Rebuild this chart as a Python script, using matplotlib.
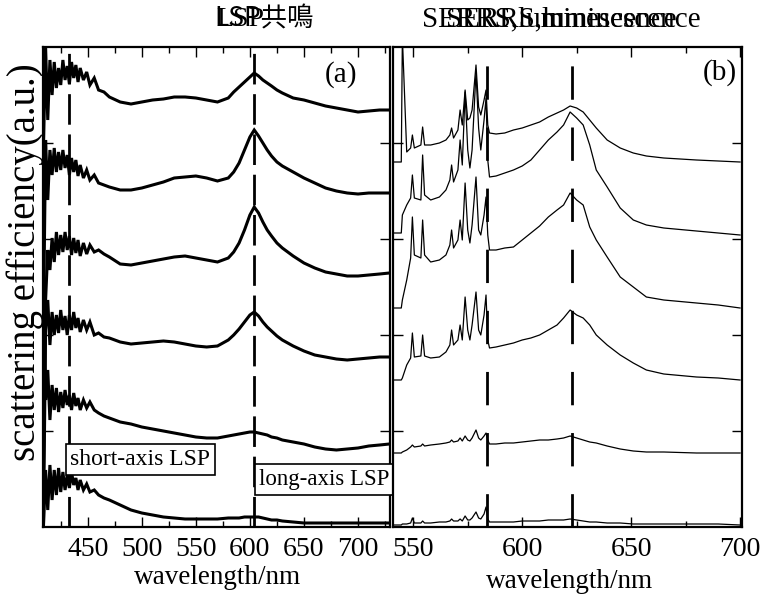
import matplotlib
matplotlib.use("Agg")
import matplotlib.pyplot as plt
from matplotlib.ticker import MultipleLocator

# ---------------- data: panel (a) dark-field scattering spectra (stacked, a.u.) -------------
wl_a = [409, 411, 413, 415, 417, 419, 421, 423, 425, 427, 429, 431, 433, 435, 437, 439, 441, 443,
        446, 449, 452, 456, 460, 465, 470, 480, 490, 500, 510, 520, 530, 540, 550, 560, 570, 580,
        585, 590, 595, 600, 604, 608, 612, 616, 620, 625, 630, 640, 650, 660, 670, 680, 690, 700,
        710, 720, 729]
a1 = [377, 480, 407, 467, 432, 465, 439, 459, 442, 467, 447, 461, 443, 465, 449, 462, 445, 459,
      447, 455, 442, 449, 437, 435, 430, 425, 423, 425, 427, 428, 430, 430, 429, 427, 425, 429,
      435, 440, 445, 450, 454, 451, 447, 444, 441, 437, 434, 429, 427, 424, 421, 419, 417, 415,
      416, 417, 417]
a2 = [197, 387, 327, 377, 352, 379, 355, 375, 357, 377, 359, 372, 352, 369, 355, 367, 351, 362,
      349, 357, 347, 352, 344, 342, 340, 337, 337, 339, 342, 345, 349, 350, 351, 349, 346, 349,
      355, 364, 377, 390, 397, 391, 384, 377, 371, 365, 361, 355, 349, 344, 339, 336, 334, 333,
      334, 334, 334]
a3 = [47, 227, 277, 257, 289, 265, 295, 272, 292, 275, 295, 277, 291, 272, 289, 274, 287, 271,
      284, 273, 282, 275, 277, 273, 270, 263, 262, 264, 266, 268, 270, 271, 269, 267, 265, 269,
      275, 284, 297, 312, 320, 314, 305, 297, 291, 284, 279, 271, 264, 259, 255, 253, 251, 251,
      252, 253, 254]
a4 = [0, 197, 227, 182, 215, 192, 212, 194, 217, 197, 211, 192, 212, 197, 215, 199, 209, 195,
      207, 197, 205, 192, 194, 190, 189, 185, 183, 184, 185, 186, 185, 183, 181, 180, 181, 187,
      192, 198, 205, 212, 215, 211, 205, 200, 196, 191, 187, 181, 176, 172, 170, 168, 167, 168,
      169, 170, 170]
a5 = [227, 127, 157, 107, 142, 117, 139, 115, 135, 119, 137, 122, 132, 117, 134, 121, 129, 117,
      127, 119, 125, 117, 114, 111, 109, 105, 103, 100, 98, 96, 94, 92, 90, 89, 89, 91,
      92, 93, 94, 95, 95, 94, 93, 92, 90, 89, 87, 85, 83, 80, 78, 77, 78, 79,
      81, 82, 83]
a6 = [0, 57, 17, 62, 27, 57, 32, 59, 35, 55, 37, 52, 39, 55, 42, 49, 37, 47,
      37, 43, 35, 37, 32, 29, 27, 22, 17, 14, 12, 10, 9, 8, 8, 8, 8, 9,
      9, 9, 10, 10, 10, 10, 9, 8, 7, 7, 6, 5, 4, 4, 4, 4, 4, 4,
      4, 4, 4]
series_a = [a1, a2, a3, a4, a5, a6]
lines_a = [433, 604]          # short-axis / long-axis LSP positions (nm)

# ---------------- data: panel (b) SERRS + luminescence spectra (stacked, a.u.) -------------
wl_b = [541, 544.5, 545, 547, 548.8, 549.6, 550.5, 553.5, 554.3, 555.2,
        558, 562, 565, 566.8, 567.6, 568.5, 570.5, 571.5, 572.5, 573.8,
        575, 576, 577, 578.8, 580, 581, 582.5, 583.4, 584.2, 585,
        588, 592, 596, 600, 604, 608, 612, 616, 619, 622,
        625, 628, 631, 634, 639, 645, 651, 657, 665, 680,
        690, 700]
b1 = [365, 365, 490, 375, 379, 392, 379, 382, 400, 382,
      382, 384, 387, 392, 399, 389, 397, 417, 402, 437,
      407, 409, 417, 462, 420, 412, 427, 437, 402, 394,
      393, 394, 397, 399, 402, 405, 410, 414, 417, 421,
      419, 415, 407, 399, 387, 379, 374, 371, 369, 367,
      366, 365]
b2 = [294, 294, 312, 322, 329, 352, 329, 327, 372, 332,
      327, 330, 337, 347, 362, 345, 357, 387, 362, 435,
      377, 359, 377, 455, 399, 377, 407, 429, 367, 350,
      351, 354, 357, 361, 367, 377, 387, 395, 402, 415,
      409, 402, 382, 357, 340, 319, 307, 302, 299, 296,
      294, 292]
b3 = [219, 219, 227, 247, 269, 310, 272, 269, 307, 272,
      265, 267, 272, 282, 297, 279, 287, 307, 287, 344,
      297, 284, 302, 350, 297, 292, 312, 330, 292, 277,
      277, 279, 280, 287, 294, 301, 310, 317, 322, 334,
      327, 322, 300, 287, 270, 250, 240, 230, 227, 224,
      222, 219]
b4 = [147, 147, 149, 162, 169, 194, 170, 171, 192, 171,
      169, 170, 175, 182, 197, 182, 187, 202, 187, 230,
      197, 187, 202, 235, 197, 192, 212, 232, 187, 179,
      180, 182, 184, 187, 189, 192, 197, 202, 209, 217,
      212, 209, 202, 192, 182, 172, 164, 157, 153, 150,
      149, 147]
b5 = [74, 74, 75, 77, 80, 82, 80, 81, 83, 81,
      82, 83, 84, 85, 87, 85, 86, 89, 86, 91,
      87, 86, 89, 97, 89, 87, 91, 94, 87, 83,
      83, 84, 84, 85, 86, 87, 87, 88, 89, 91,
      89, 87, 85, 84, 81, 78, 76, 75, 75, 74,
      74, 74]
b6 = [2, 2, 3, 3, 4, 9, 4, 4, 6, 4,
      4, 5, 5, 6, 8, 6, 6, 8, 6, 11,
      7, 7, 9, 15, 9, 8, 13, 20, 8, 5,
      5, 5, 5, 6, 6, 6, 7, 7, 7, 8,
      7, 6, 5, 5, 4, 4, 3, 3, 3, 3,
      3, 2]
series_b = [b1, b2, b3, b4, b5, b6]
lines_b = [584, 623]

xticks_a = [450, 500, 550, 600, 650, 700]
xticks_b = [550, 600, 650, 700]

# ---------------- figure ----------------
W, H = 772, 596
fig = plt.figure(figsize=(W / 100, H / 100), dpi=100)
serif = "Liberation Serif"
plt.rcParams["font.family"] = [serif, "Noto Sans CJK JP", "DejaVu Sans"]


def box(x0, x1, y0, y1):
    return [x0 / W, 1 - y1 / H, (x1 - x0) / W, (y1 - y0) / H]


axA = fig.add_axes(box(43, 390, 47, 527))
axB = fig.add_axes(box(393, 742, 47, 527))

for ax in (axA, axB):
    ax.set_ylim(0, 480)
    ax.set_yticks([96, 192, 288, 384])
    ax.tick_params(axis="both", which="both", direction="in", top=True, right=True,
                   labelleft=False, width=1.0, colors="black")
    ax.tick_params(axis="both", which="major", length=7)
    ax.tick_params(axis="both", which="minor", length=4)
    ax.tick_params(axis="x", labelsize=20, pad=7)
    for sp in ax.spines.values():
        sp.set_linewidth(1.6)
    ax.xaxis.set_minor_locator(MultipleLocator(25))

axA.set_xlim(408.6, 729.6)
axA.set_xticks(xticks_a)
axB.set_xlim(540.7, 700.9)
axB.set_xticks(xticks_b)
for lab in axA.get_xticklabels() + axB.get_xticklabels():
    lab.set_fontfamily(serif)

for s in series_a:
    axA.plot(wl_a, s, color="black", lw=2.2, solid_joinstyle="miter")
for s in series_b:
    axB.plot(wl_b, s, color="black", lw=0.9)

for x in lines_a:
    axA.axvline(x, color="black", lw=2.0, ls=(0, (11, 3.5)))
for x in lines_b:
    axB.axvline(x, color="black", lw=2.0, ls=(0, (12, 10)))

# panel labels
axA.text(684, 452, "(a)", fontsize=21, family=serif, ha="center", va="center")
axB.text(690.8, 454, "(b)", fontsize=21, family=serif, ha="center", va="center")

# boxed annotations
bbox_kw = dict(boxstyle="square,pad=0.2", fc="white", ec="black", lw=1.2)
axA.text(434.0, 67.5, "short-axis LSP", fontsize=17, family=serif, ha="left",
         va="center", bbox=bbox_kw)
axA.text(608.5, 47.5, "long-axis LSP", fontsize=16.5, family=serif, ha="left",
         va="center", bbox=bbox_kw, clip_on=False, zorder=5)

# axis labels
fig.text(25 / W, 1 - 262 / H, "scattering efficiency(a.u.)", rotation=90, fontsize=28,
         family=serif, ha="center", va="center")
fig.text(218 / W, 1 - 577 / H, "wavelength/nm", fontsize=19.5, family=serif,
         ha="center", va="center")
fig.text(570 / W, 1 - 582 / H, "wavelength/nm", fontsize=19.5, family=serif,
         ha="center", va="center")

# titles (overlapping, as in the original)
fig.text(264 / W, 1 - 19 / H, "LSP共鳴", fontsize=19, family=["Noto Sans CJK JP"],
         ha="center", va="center")
fig.text(240 / W, 1 - 19 / H, "LSP", fontsize=20, family=serif, ha="center", va="center")
fig.text(422 / W, 1 - 19 / H, "SERRS,luminescence", fontsize=21, family=serif,
         ha="left", va="center")
fig.text(446 / W, 1 - 19 / H, "SERRS,luminescence", fontsize=21, family=serif,
         ha="left", va="center")

fig.savefig("out.png", dpi=100)
